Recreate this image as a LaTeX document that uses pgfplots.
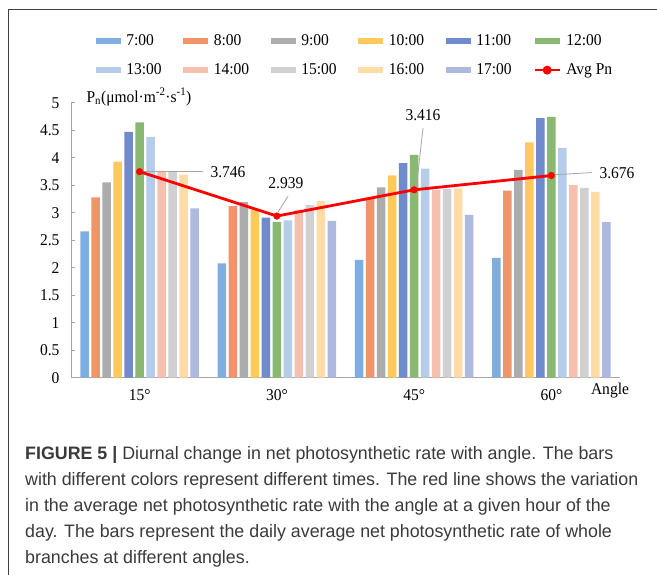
\documentclass[border=0pt]{standalone}
\usepackage{fontspec}
\setmainfont{Liberation Serif}
\newfontfamily\chartfam{Liberation Serif}[FakeStretch=0.94]
\newfontfamily\capfont{Liberation Sans}[FakeStretch=0.99]
\usepackage{pgfplots}
\usepackage{pgfplotstable}
\pgfplotsset{compat=1.18}

\definecolor{c7}{HTML}{7EAEDF}
\definecolor{c8}{HTML}{F0956A}
\definecolor{c9}{HTML}{ACACAC}
\definecolor{c10}{HTML}{FFC95C}
\definecolor{c11}{HTML}{6F8BCB}
\definecolor{c12}{HTML}{89B873}
\definecolor{c13}{HTML}{B5CDEB}
\definecolor{c14}{HTML}{F6C0AE}
\definecolor{c15}{HTML}{D0D0D0}
\definecolor{c16}{HTML}{FFDCA6}
\definecolor{c17}{HTML}{AEB9DF}
\definecolor{axgray}{HTML}{A6A6A6}
\definecolor{capgray}{HTML}{3A3A3A}

\pgfplotstableread{
x h7 h8 h9 h10 h11 h12 h13 h14 h15 h16 h17 avg
0 2.66 3.28 3.55 3.93 4.47 4.64 4.38 3.74 3.74 3.69 3.08 3.746
1 2.08 3.12 3.19 3.06 2.91 2.83 2.86 3.05 3.14 3.21 2.85 2.939
2 2.14 3.25 3.46 3.68 3.90 4.05 3.80 3.41 3.43 3.44 2.96 3.416
3 2.18 3.40 3.78 4.28 4.72 4.74 4.18 3.50 3.45 3.38 2.83 3.676
}\datatable

\newcommand{\LE}[1]{\makebox[55pt][l]{#1}}
\newcommand{\chartfont}{\chartfam\fontsize{16.5}{19}\selectfont}

\begin{document}
\begin{tikzpicture}[x=1pt,y=1pt]
\useasboundingbox (0,0) rectangle (657,575);
\fill[white] (0,0) rectangle (657,575);
\draw[black!75, line width=1pt] (8,0) -- (8,565) -- (657,565);
\begin{axis}[
  at={(71pt,197.3pt)}, anchor=south west,
  width=549pt, height=275pt, scale only axis,
  xmin=-0.5, xmax=3.5, ymin=0, ymax=5,
  ybar, bar width=8.6pt,
  axis x line*=bottom, axis y line*=left,
  axis line style={axgray, line width=0.8pt},
  xtick={0,1,2,3}, xticklabels={15°,30°,45°,60°},
  x tick style={draw=none},
  ytick={0,0.5,1,1.5,2,2.5,3,3.5,4,4.5,5},
  y tick style={axgray, line width=0.8pt},
  tick align=inside, major tick length=4pt,
  /pgf/number format/assume math mode=true,
  ticklabel style={font=\chartfont, text=black},
  yticklabel style={xshift=-8pt},
  xticklabel style={yshift=-8pt},
  legend columns=6,
  legend style={at={(axis description cs:0.045,1.172)}, anchor=west,
    draw=none, fill=none, inner sep=0pt, font=\chartfont,
    column sep=0pt, row sep=13pt,
    /tikz/every odd column/.style={column sep=3.5pt}},
  legend cell align=left,
  clip=false,
]
\pgfplotsset{mybar/.style={fill=#1, draw=none,
   legend image code/.code={\fill[#1] (0pt,-2.9pt) rectangle (25pt,2.9pt);}}}
\addplot[mybar=c7,  bar shift=-55pt] table[x=x,y=h7]{\datatable};
\addlegendentry{\LE{7:00}}
\addplot[mybar=c8,  bar shift=-44pt] table[x=x,y=h8]{\datatable};
\addlegendentry{\LE{8:00}}
\addplot[mybar=c9,  bar shift=-33pt] table[x=x,y=h9]{\datatable};
\addlegendentry{\LE{9:00}}
\addplot[mybar=c10, bar shift=-22pt] table[x=x,y=h10]{\datatable};
\addlegendentry{\LE{10:00}}
\addplot[mybar=c11, bar shift=-11pt] table[x=x,y=h11]{\datatable};
\addlegendentry{\LE{11:00}}
\addplot[mybar=c12, bar shift=0pt] table[x=x,y=h12]{\datatable};
\addlegendentry{\LE{12:00}}
\addplot[mybar=c13, bar shift=11pt] table[x=x,y=h13]{\datatable};
\addlegendentry{\LE{13:00}}
\addplot[mybar=c14, bar shift=22pt] table[x=x,y=h14]{\datatable};
\addlegendentry{\LE{14:00}}
\addplot[mybar=c15, bar shift=33pt] table[x=x,y=h15]{\datatable};
\addlegendentry{\LE{15:00}}
\addplot[mybar=c16, bar shift=44pt] table[x=x,y=h16]{\datatable};
\addlegendentry{\LE{16:00}}
\addplot[mybar=c17, bar shift=55pt] table[x=x,y=h17]{\datatable};
\addlegendentry{\LE{17:00}}
% leader lines
\draw[axgray, line width=0.8pt] (axis cs:0.02,3.746) -- (axis cs:0.462,3.746);
\draw[axgray, line width=0.8pt] (axis cs:1.008,3.01) -- (axis cs:1.081,3.30);
\draw[axgray, line width=0.8pt] (axis cs:2.017,3.48) -- (axis cs:2.065,4.54);
\draw[axgray, line width=0.8pt] (axis cs:3.026,3.69) -- (axis cs:3.296,3.73);
\addplot[sharp plot, draw=red, fill=none, line width=2.8pt, mark=*, mark size=3.3pt,
  mark options={fill=red, draw=red, line width=0.5pt},
  legend image code/.code={\draw[red, line width=2.5pt] (0pt,0pt) -- (25pt,0pt);
     \fill[red] (12.5pt,0pt) circle (3pt);}]
  table[x=x,y=avg]{\datatable};
\addlegendentry{Avg Pn}
\node[font=\chartfont, anchor=west] at (axis cs:0.491,3.74) {3.746};
\node[font=\chartfont] at (axis cs:1.066,3.54) {2.939};
\node[font=\chartfont] at (axis cs:2.065,4.776) {3.416};
\node[font=\chartfont, anchor=west] at (axis cs:3.325,3.72) {3.676};
\end{axis}
\node[font=\chartfont, anchor=west] at (83,478) {P\textsubscript{n}(μmol·m\textsuperscript{-2}·s\textsuperscript{-1})};
\node[font=\chartfont] at (610,184) {Angle};
% caption
\begin{scope}[every node/.style={anchor=base west, inner sep=0pt, text=capgray,
   font=\capfont\fontsize{18}{21}\selectfont}]
\node at (25,115) {\textbf{FIGURE 5 |} Diurnal change in net photosynthetic rate with angle. The bars};
\node at (25,89) {with different colors represent different times. The red line shows the variation};
\node at (25,63) {in the average net photosynthetic rate with the angle at a given hour of the};
\node at (25,37) {day. The bars represent the daily average net photosynthetic rate of whole};
\node at (25,11) {branches at different angles.};
\end{scope}
\end{tikzpicture}
\end{document}
